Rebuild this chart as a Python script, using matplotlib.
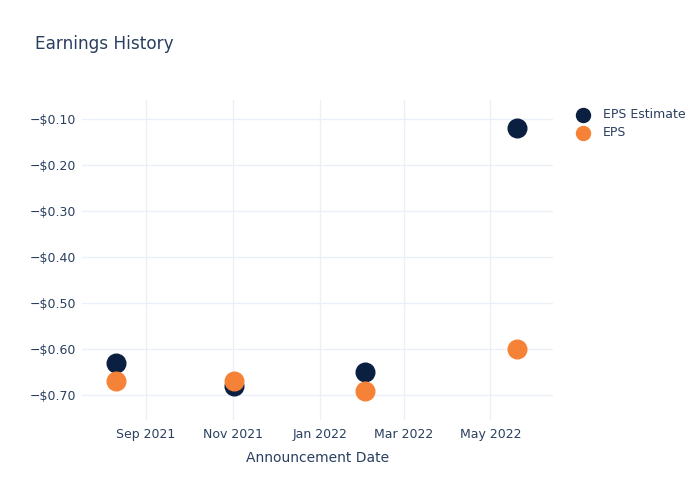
import pandas as pd
import matplotlib.pyplot as plt
import matplotlib.dates as mdates
from matplotlib.ticker import FuncFormatter

dates = pd.to_datetime(['2021-08-11', '2021-11-02', '2022-02-02', '2022-05-20'])
eps_estimate = [-0.63, -0.68, -0.65, -0.12]
eps = [-0.67, -0.67, -0.69, -0.60]

text_color = '#2a3f5f'
grid_color = '#ebf0f8'

fig = plt.figure(figsize=(7, 5), dpi=100)
ax = fig.add_axes([82 / 700, 1 - 420 / 500, 471 / 700, 320 / 500])

ax.scatter(dates, eps_estimate, s=180, color='#0b1f40', zorder=3, label='EPS Estimate')
ax.scatter(dates, eps, s=180, color='#f68237', zorder=4, label='EPS')

ax.set_xlim(pd.Timestamp('2021-07-18'), pd.Timestamp('2022-06-14'))
ax.set_ylim(-0.754, -0.0587)
ax.set_yticks([-0.7, -0.6, -0.5, -0.4, -0.3, -0.2, -0.1])
ax.yaxis.set_major_formatter(FuncFormatter(lambda v, p: f'\u2212${abs(v):.2f}'))
ax.xaxis.set_major_locator(mdates.MonthLocator(bymonth=[1, 3, 5, 9, 11]))
ax.xaxis.set_major_formatter(mdates.DateFormatter('%b %Y'))

ax.grid(True, color=grid_color, linewidth=1)
ax.set_axisbelow(True)
for s in ax.spines.values():
    s.set_visible(False)
ax.tick_params(length=0, labelsize=9, colors=text_color)
ax.tick_params(axis='x', pad=6)
ax.tick_params(axis='y', pad=4)

ax.set_xlabel('Announcement Date', fontsize=10, color=text_color, labelpad=7)
fig.text(35 / 700, 1 - 44 / 500, 'Earnings History', fontsize=12.2, color=text_color, va='center')

leg = fig.legend(loc='upper left', bbox_to_anchor=(559 / 700, 1 - 97 / 500), frameon=False,
                 fontsize=9, handletextpad=0.6, labelspacing=0.4, markerscale=0.75)
for t in leg.get_texts():
    t.set_color(text_color)

fig.savefig('out.png')
